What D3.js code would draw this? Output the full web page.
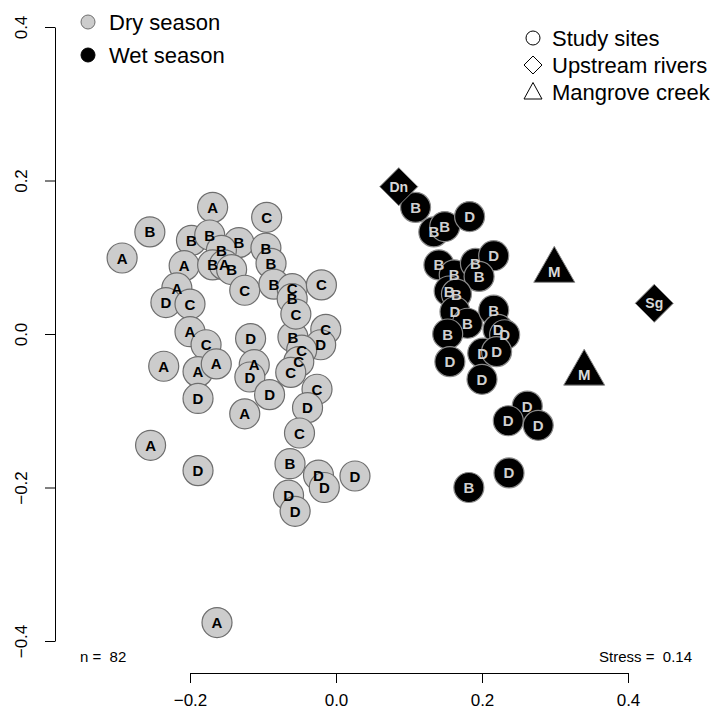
<!DOCTYPE html>
<html>
<head>
<meta charset="utf-8">
<script src="https://cdn.jsdelivr.net/npm/d3@7"></script>
<style>
body { margin: 0; background: #fff; }
svg { display: block; font-family: "Liberation Sans", Arial, Helvetica, sans-serif; }
</style>
</head>
<body>
<svg width="718" height="717"></svg>
<script>
// NMDS scores, dry season study sites
const dryX = [-0.169,-0.255,-0.293,-0.198,-0.173,-0.133,-0.157,-0.208,-0.169,-0.153,-0.143,-0.218,-0.125,
  -0.095,-0.096,-0.089,-0.085,-0.060,-0.060,-0.020,-0.233,-0.200,-0.200,-0.178,-0.236,-0.189,-0.164,-0.189,
  -0.117,-0.059,-0.014,-0.021,-0.047,-0.051,-0.112,-0.118,-0.062,-0.091,-0.026,-0.039,-0.125,-0.050,-0.063,
  -0.024,-0.016,0.026,-0.065,-0.056,-0.254,-0.189,-0.163,-0.055];
const dryY = [0.165,0.133,0.099,0.122,0.129,0.119,0.109,0.089,0.090,0.090,0.084,0.060,0.057,
  0.152,0.112,0.092,0.065,0.059,0.046,0.064,0.041,0.039,0.003,-0.014,-0.042,-0.049,-0.039,-0.084,
  -0.006,-0.004,0.006,-0.014,-0.021,-0.036,-0.040,-0.056,-0.050,-0.079,-0.072,-0.096,-0.104,-0.129,-0.169,
  -0.184,-0.200,-0.185,-0.210,-0.231,-0.145,-0.178,-0.376,0.026];
const dryLab = ["A","B","A","B","B","B","B","A","B","A","B","A","C",
  "C","B","B","B","C","B","C","D","C","A","C","A","A","A","D",
  "D","B","C","D","C","C","A","D","C","D","C","D","A","C","B",
  "D","D","D","D","D","A","D","A","C"];

// wet season study sites
const wetX = [0.109,0.134,0.149,0.183,0.141,0.162,0.191,0.216,0.196,0.155,0.165,0.163,0.180,
  0.216,0.153,0.222,0.231,0.201,0.220,0.156,0.200,0.262,0.236,0.277,0.237,0.182];
const wetY = [0.165,0.133,0.140,0.153,0.090,0.077,0.092,0.102,0.075,0.056,0.052,0.029,0.014,
  0.031,0.000,0.006,-0.001,-0.025,-0.023,-0.036,-0.059,-0.094,-0.113,-0.119,-0.181,-0.200];
const wetLab = ["B","B","B","D","B","B","B","D","B","B","B","D","B",
  "B","B","D","D","D","D","D","D","D","D","D","D","B"];

// reference sites
const refX = [0.086, 0.436, 0.299, 0.340];
const refY = [0.192, 0.040, 0.083, -0.051];
const refLab = ["Dn", "Sg", "M", "M"];
const refType = ["river", "river", "creek", "creek"];

const xTicks = [-0.2, 0.0, 0.2, 0.4];
const yTicks = [-0.4, -0.2, 0.0, 0.2, 0.4];

const svg = d3.select("svg");

const x = d3.scaleLinear().domain([-0.2, 0.4]).range([190, 628]);
const y = d3.scaleLinear().domain([-0.4, 0.4]).range([641, 27]);

// axes (R style: only the span of the ticks)
svg.append("g")
  .attr("transform", "translate(0,673)")
  .call(d3.axisBottom(x).tickValues(xTicks).tickFormat(d3.format(".1f"))
    .tickSize(10).tickSizeOuter(0).tickPadding(11));

const yAxis = svg.append("g")
  .attr("transform", "translate(55,0)")
  .call(d3.axisLeft(y).tickValues(yTicks).tickFormat(d3.format(".1f"))
    .tickSize(10).tickSizeOuter(0));

yAxis.selectAll(".tick text")
  .attr("x", 0).attr("dy", 0)
  .attr("text-anchor", "middle")
  .attr("transform", "translate(-28,0) rotate(-90)");

svg.selectAll(".domain, .tick line").attr("stroke", "#000").attr("stroke-width", 1);
svg.selectAll(".tick text").attr("fill", "#000").style("font-size", "17px")
  .style("font-family", "'Liberation Sans', Arial, sans-serif");

// circles first, then all labels on top (like points() then text() in R)
function drawSites(xs, ys, labs, fill, stroke, textCol) {
  const pts = xs.map((v, i) => ({ x: v, y: ys[i], lab: labs[i] }));
  const g = svg.append("g");
  g.selectAll("circle")
    .data(pts)
    .join("circle")
    .attr("cx", d => x(d.x))
    .attr("cy", d => y(d.y))
    .attr("r", 15)
    .attr("fill", fill)
    .attr("stroke", stroke)
    .attr("stroke-width", 1.2);
  g.selectAll("text")
    .data(pts)
    .join("text")
    .text(d => d.lab)
    .attr("x", d => x(d.x))
    .attr("y", d => y(d.y))
    .attr("text-anchor", "middle")
    .attr("dy", "0.37em")
    .attr("fill", textCol)
    .style("font-weight", "bold")
    .style("font-size", "15px");
}

drawSites(dryX, dryY, dryLab, "#cccccc", "#6e6e6e", "#000");
drawSites(wetX, wetY, wetLab, "#000", "#8a8a8a", "#d0d0d0");

// reference sites: diamonds for rivers, triangles for creek
const diamond = "M0,-19L19,0L0,19L-19,0Z";
const triangle = "M0,-24L20.5,12L-20.5,12Z";
const refs = refX.map((v, i) => ({ x: v, y: refY[i], lab: refLab[i], type: refType[i] }));
const refNode = svg.append("g").selectAll("g")
  .data(refs)
  .join("g")
  .attr("transform", d => `translate(${x(d.x)},${y(d.y)})`);
refNode.append("path")
  .attr("d", d => d.type === "river" ? diamond : triangle)
  .attr("fill", "#000")
  .attr("stroke", "#8a8a8a")
  .attr("stroke-width", 1);
refNode.append("text")
  .text(d => d.lab)
  .attr("text-anchor", "middle")
  .attr("dy", d => d.type === "river" ? "0.36em" : "0.45em")
  .attr("fill", "#d8d8d8")
  .style("font-weight", "bold")
  .style("font-size", d => d.type === "river" ? "14px" : "15px");

// legends
const seasonLeg = [{ lab: "Dry season", fill: "#cccccc", stroke: "#6e6e6e" },
                   { lab: "Wet season", fill: "#000", stroke: "#000" }];
const lg = svg.append("g").selectAll("g").data(seasonLeg).join("g")
  .attr("transform", (d, i) => `translate(88,${22 + i * 33})`);
lg.append("circle").attr("r", 7).attr("fill", d => d.fill).attr("stroke", d => d.stroke);
lg.append("text").text(d => d.lab).attr("x", 21).attr("dy", "0.36em")
  .style("font-size", "22px");

const typeLeg = [{ lab: "Study sites", shape: "circle" },
                 { lab: "Upstream rivers", shape: "M0,-9L9,0L0,9L-9,0Z" },
                 { lab: "Mangrove creek", shape: "M0,-9.5L9,7L-9,7Z" }];
const tg = svg.append("g").selectAll("g").data(typeLeg).join("g")
  .attr("transform", (d, i) => `translate(533,${38 + i * 27})`);
tg.each(function(d) {
  const g = d3.select(this);
  if (d.shape === "circle") {
    g.append("circle").attr("r", 7).attr("fill", "none").attr("stroke", "#000");
  } else {
    g.append("path").attr("d", d.shape).attr("fill", "none").attr("stroke", "#000");
  }
});
tg.append("text").text(d => d.lab).attr("x", 19).attr("dy", "0.36em")
  .style("font-size", "22px");

svg.append("text").text("n =  82").attr("x", 80).attr("y", 662)
  .style("font-size", "15px").style("white-space", "pre");
svg.append("text").text("Stress =  0.14").attr("x", 692).attr("y", 662)
  .attr("text-anchor", "end").style("font-size", "15px").style("white-space", "pre");
</script>
</body>
</html>
